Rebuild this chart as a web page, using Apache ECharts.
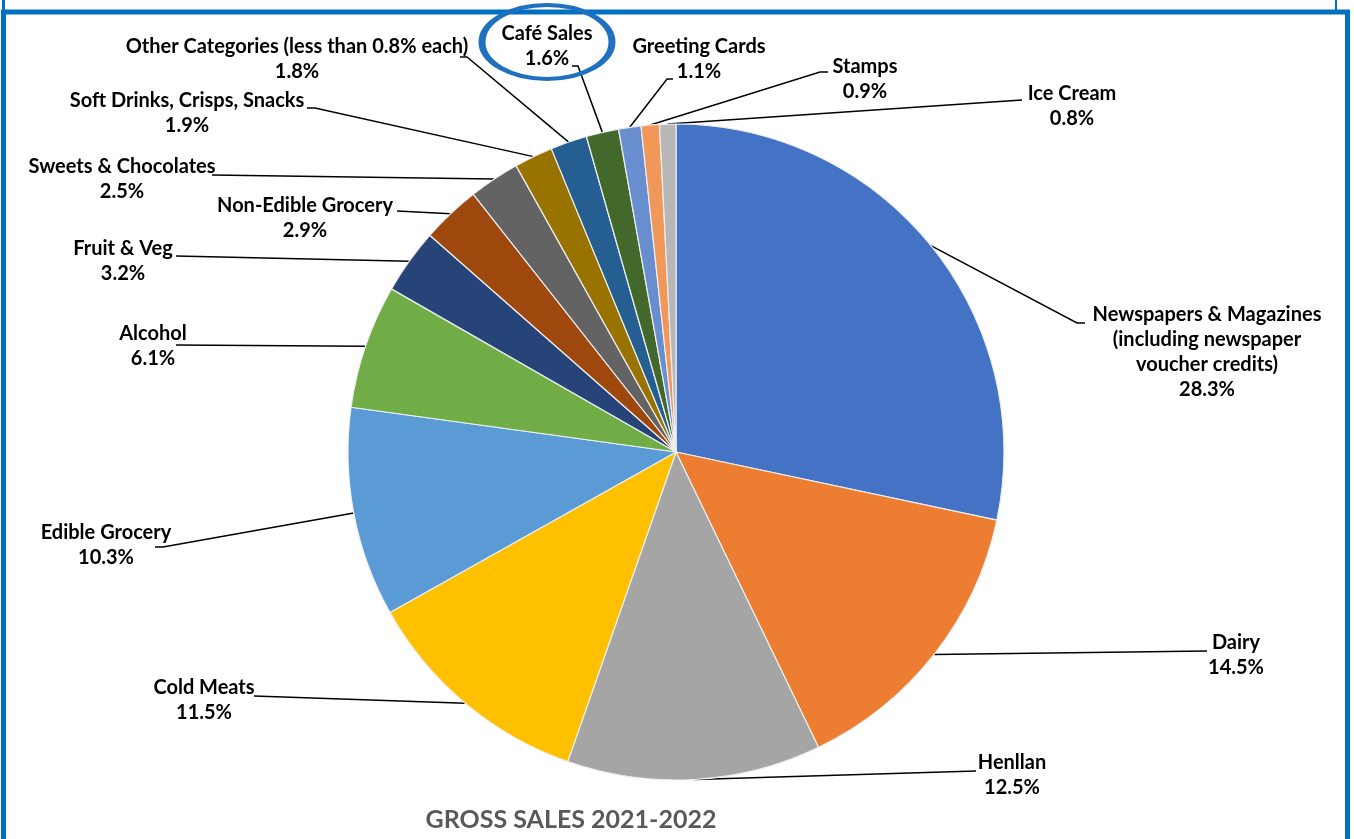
<!DOCTYPE html>
<html>
<head>
<meta charset="utf-8">
<script src="https://cdn.jsdelivr.net/npm/echarts@6/dist/echarts.min.js"></script>
<style>
  html, body { margin: 0; padding: 0; background: #fff; }
  #chart { width: 1354px; height: 839px; }
</style>
</head>
<body>
<div id="chart"></div>
<script>
// ---- data ----
const categories = [
  'Newspapers & Magazines\n(including newspaper\nvoucher credits)',
  'Dairy', 'Henllan', 'Cold Meats', 'Edible Grocery', 'Alcohol',
  'Fruit & Veg', 'Non-Edible Grocery', 'Sweets & Chocolates',
  'Soft Drinks, Crisps, Snacks', 'Other Categories (less than 0.8% each)',
  'Café Sales', 'Greeting Cards', 'Stamps', 'Ice Cream'
];
const shares = [28.3, 14.5, 12.5, 11.5, 10.3, 6.1, 3.2, 2.9, 2.5, 1.9, 1.8, 1.6, 1.1, 0.9, 0.8];
const chartTitle = 'GROSS SALES 2021-2022';

// ---- styles / layout ----
const colors = ['#4472C4', '#ED7D31', '#A5A5A5', '#FFC000', '#5B9BD5', '#70AD47',
  '#264478', '#9E480E', '#636363', '#997300', '#255E91', '#43682B',
  '#698ED0', '#F1975A', '#B7B7B7'];
// label block centre and leader line bend/end points
const labelPlace = [
  { x: 1207, y: 352, pts: [[1077, 323], [1085, 323]] },
  { x: 1236, y: 655, pts: [[1207, 651]] },
  { x: 1012, y: 775, pts: [[976, 771]] },
  { x: 204, y: 700, pts: [[254, 696]] },
  { x: 106, y: 545, pts: [[163, 547], [155, 547]] },
  { x: 153, y: 346, pts: [[176, 345]] },
  { x: 123, y: 261, pts: [[176, 256]] },
  { x: 305, y: 218, pts: [[397, 211]] },
  { x: 122, y: 179, pts: [[212, 175]] },
  { x: 187, y: 113, pts: [[315, 108], [307, 108]] },
  { x: 297, y: 59, pts: [[467, 57], [460, 57]] },
  { x: 547, y: 46, pts: [[578, 66], [572, 66]] },
  { x: 699, y: 59, pts: [[667, 79], [673, 79]] },
  { x: 865, y: 79, pts: [[820, 72], [828, 72]] },
  { x: 1072, y: 106, pts: [[1022, 100]] }
];

const chart = echarts.init(document.getElementById('chart'), null, { renderer: 'canvas' });

const option = {
  backgroundColor: '#ffffff',
  animation: false,
  color: colors,
  series: [{
    type: 'pie',
    center: [676, 452],
    radius: 328,
    startAngle: 90,
    clockwise: true,
    avoidLabelOverlap: false,
    itemStyle: { borderColor: '#eeeeee', borderWidth: 1.2 },
    label: {
      show: true,
      position: 'outside',
      fontFamily: 'Lato, "Open Sans", sans-serif',
      fontWeight: 'bold',
      fontSize: 20,
      lineHeight: 25,
      color: '#000000',
      align: 'center',
      overflow: 'none',
      formatter: function (p) { return p.name + '\n' + p.value.toFixed(1) + '%'; }
    },
    labelLine: {
      show: true,
      length: 10,
      length2: 10,
      smooth: false,
      lineStyle: { color: '#000000', width: 1.5 }
    },
    emphasis: { disabled: true },
    labelLayout: function (params) {
      const place = labelPlace[params.dataIndex];
      const start = params.labelLinePoints ? params.labelLinePoints[0] : null;
      const res = { x: place.x, y: place.y, align: 'center', verticalAlign: 'middle' };
      if (start) {
        const pts = [start].concat(place.pts);
        while (pts.length < 3) pts.push(pts[pts.length - 1]);
        res.labelLinePoints = pts;
      }
      return res;
    },
    data: categories.map(function (c, i) { return { name: c, value: shares[i] }; })
  }],
  graphic: [
    {
      type: 'rect',
      shape: { x: 3.5, y: 12, width: 1344, height: 900 },
      style: { fill: null, stroke: '#0070C0', lineWidth: 5 },
      silent: true
    },
    {
      type: 'line',
      shape: { x1: 3.5, y1: 0, x2: 3.5, y2: 12 },
      style: { stroke: '#0070C0', lineWidth: 3 },
      silent: true
    },
    {
      type: 'line',
      shape: { x1: 1336, y1: 0, x2: 1336, y2: 12 },
      style: { stroke: '#0070C0', lineWidth: 2 },
      silent: true
    },
    {
      type: 'circle',
      x: 547, y: 42,
      scaleX: 65 / 37, scaleY: 1,
      shape: { cx: 0, cy: 0, r: 37 },
      style: { fill: null, stroke: '#1F70BE', lineWidth: 4, strokeNoScale: true },
      silent: true,
      z: 100
    },
    {
      type: 'text',
      x: 571, y: 820,
      style: {
        text: chartTitle,
        fontFamily: 'Lato, "Open Sans", sans-serif',
        fontWeight: 'bold',
        fontSize: 25,
        fill: '#595959',
        align: 'center',
        verticalAlign: 'middle'
      },
      silent: true
    }
  ]
};

chart.setOption(option);
</script>
</body>
</html>
